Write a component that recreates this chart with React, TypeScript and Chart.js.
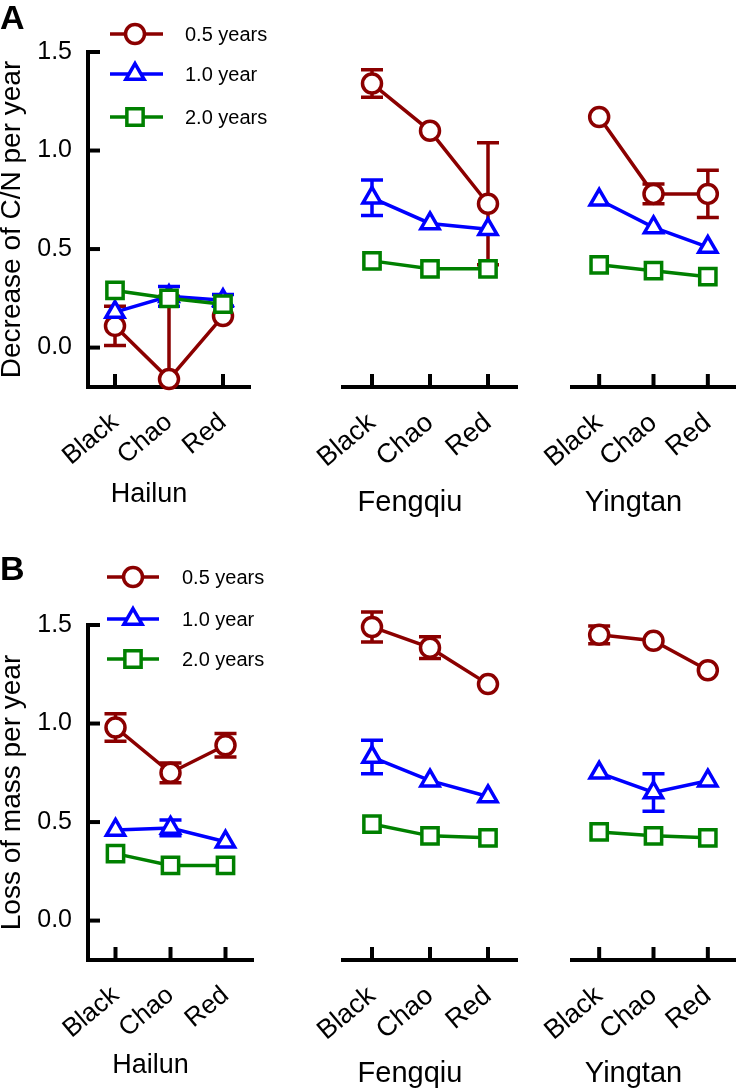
import React, { useEffect, useRef } from "react";
import { Chart, registerables } from "chart.js";
import { drawPoint } from "chart.js/helpers";

Chart.register(...registerables);

const FONT = "'Liberation Sans', Arial, Helvetica, sans-serif";

// ---------- data ----------
const categories = ["Black", "Chao", "Red"];
const seriesNames = ["0.5 years", "1.0 year", "2.0 years"];
const yTickValues = [0, 0.5, 1.0, 1.5];
const groupNames = ["Hailun", "Fengqiu", "Yingtan"];
const yTitleA = "Decrease of C/N per year";
const yTitleB = "Loss of mass per year";

// Panel A – decrease of C/N per year
const cnHailun05 = [0.11, -0.16, 0.16];
const cnHailun05Err = [0.1, 0.42, 0];
const cnHailun10 = [0.18, 0.26, 0.24];
const cnHailun10Err = [0, 0.05, 0.03];
const cnHailun20 = [0.29, 0.25, 0.22];
const cnHailun20Err = [0, 0, 0];

const cnFengqiu05 = [1.34, 1.1, 0.73];
const cnFengqiu05Err = [0.07, 0, 0.31];
const cnFengqiu10 = [0.76, 0.63, 0.6];
const cnFengqiu10Err = [0.09, 0, 0];
const cnFengqiu20 = [0.44, 0.4, 0.4];
const cnFengqiu20Err = [0, 0, 0];

const cnYingtan05 = [1.17, 0.78, 0.78];
const cnYingtan05Err = [0, 0.05, 0.12];
const cnYingtan10 = [0.75, 0.61, 0.51];
const cnYingtan10Err = [0, 0, 0];
const cnYingtan20 = [0.42, 0.39, 0.36];
const cnYingtan20Err = [0, 0, 0];

// Panel B – loss of mass per year
const mHailun05 = [0.98, 0.75, 0.89];
const mHailun05Err = [0.07, 0.05, 0.06];
const mHailun10 = [0.46, 0.47, 0.4];
const mHailun10Err = [0, 0.04, 0];
const mHailun20 = [0.34, 0.28, 0.28];
const mHailun20Err = [0, 0, 0];

const mFengqiu05 = [1.49, 1.385, 1.2];
const mFengqiu05Err = [0.076, 0.055, 0];
const mFengqiu10 = [0.83, 0.71, 0.63];
const mFengqiu10Err = [0.085, 0, 0];
const mFengqiu20 = [0.49, 0.43, 0.42];
const mFengqiu20Err = [0, 0, 0];

const mYingtan05 = [1.45, 1.42, 1.27];
const mYingtan05Err = [0.045, 0, 0];
const mYingtan10 = [0.75, 0.65, 0.71];
const mYingtan10Err = [0, 0.095, 0];
const mYingtan20 = [0.45, 0.43, 0.42];
const mYingtan20Err = [0, 0, 0];

// ---------- styles ----------
const COLORS = ["#8b0000", "#0000ff", "#008000"];
const STYLES = ["circle", "triangle", "rect"];
const RADII = [9.5, 10.5, 11.5];
const LINE_W = 3.5;
const AXIS_W = 4;

type Series = { values: number[]; errors: number[] };
type SubCfg = {
  left: number; top: number; width: number; height: number;
  areaLeft: number; areaRight: number; areaTop: number; areaBottom: number;
  yMin: number; yMax: number;
  showY: boolean; yTitle?: string;
  group: string; groupBaseline: number; groupFont: number;
  tickFont: number; tickPad: number; rotation: number;
  series: Series[];
  legend?: { x0: number; x1: number; xm: number; xt: number; rows: number[] };
  letter?: { text: string; x: number; baseline: number };
};

function Sub({ cfg }: { cfg: SubCfg }) {
  const ref = useRef<HTMLCanvasElement | null>(null);
  useEffect(() => {
    const canvas = ref.current;
    if (!canvas) return;

    const decor = {
      id: "decor",
      beforeDatasetsDraw(chart: any) {
        const { ctx, chartArea, scales } = chart;
        const x = scales.x;
        const y = scales.y;
        ctx.save();
        ctx.strokeStyle = "#000";
        ctx.lineWidth = AXIS_W;
        ctx.lineCap = "butt";
        // inward ticks
        categories.forEach((_, j) => {
          const px = x.getPixelForValue(j);
          ctx.beginPath();
          ctx.moveTo(px, chartArea.bottom);
          ctx.lineTo(px, chartArea.bottom - 13);
          ctx.stroke();
        });
        if (cfg.showY) {
          yTickValues.forEach((v) => {
            const py = y.getPixelForValue(v);
            ctx.beginPath();
            ctx.moveTo(chartArea.left, py);
            ctx.lineTo(chartArea.left + 12, py);
            ctx.stroke();
          });
        }
        // error bars
        ctx.lineWidth = LINE_W;
        ctx.beginPath();
        ctx.rect(chartArea.left - 30, 0, chartArea.right - chartArea.left + 60, chartArea.bottom);
        ctx.clip();
        cfg.series.forEach((s, i) => {
          ctx.strokeStyle = COLORS[i];
          s.errors.forEach((e, j) => {
            if (!e) return;
            const px = x.getPixelForValue(j);
            const yHi = y.getPixelForValue(s.values[j] + e);
            const yLo = y.getPixelForValue(s.values[j] - e);
            ctx.beginPath();
            ctx.moveTo(px, yHi);
            ctx.lineTo(px, yLo);
            ctx.moveTo(px - 11, yHi);
            ctx.lineTo(px + 11, yHi);
            ctx.moveTo(px - 11, yLo);
            ctx.lineTo(px + 11, yLo);
            ctx.stroke();
          });
        });
        ctx.restore();
      },
      afterDraw(chart: any) {
        const { ctx, chartArea } = chart;
        ctx.save();
        ctx.fillStyle = "#000";
        ctx.font = `${cfg.groupFont}px ${FONT}`;
        ctx.textAlign = "center";
        ctx.textBaseline = "alphabetic";
        const gx = (chartArea.left + chartArea.right) / 2 - 20;
        ctx.fillText(cfg.group, gx, cfg.groupBaseline - cfg.top);
        if (cfg.letter) {
          ctx.font = `bold 34px ${FONT}`;
          ctx.textAlign = "left";
          ctx.fillText(cfg.letter.text, cfg.letter.x - cfg.left, cfg.letter.baseline - cfg.top);
        }
        if (cfg.legend) {
          const lg = cfg.legend;
          seriesNames.forEach((name, i) => {
            const ry = lg.rows[i] - cfg.top;
            ctx.strokeStyle = COLORS[i];
            ctx.lineWidth = LINE_W;
            ctx.beginPath();
            ctx.moveTo(lg.x0 - cfg.left, ry);
            ctx.lineTo(lg.x1 - cfg.left, ry);
            ctx.stroke();
            ctx.fillStyle = "#fff";
            drawPoint(ctx, { pointStyle: STYLES[i] as any, radius: RADII[i], rotation: 0, borderWidth: LINE_W }, lg.xm - cfg.left, ry);
            ctx.fillStyle = "#000";
            ctx.font = `20px ${FONT}`;
            ctx.textAlign = "left";
            ctx.textBaseline = "middle";
            ctx.fillText(name, lg.xt - cfg.left, ry + 1);
          });
        }
        ctx.restore();
      },
    };

    const chart = new Chart(canvas, {
      type: "line",
      data: {
        datasets: cfg.series.map((s, i) => ({
          label: seriesNames[i],
          data: s.values.map((v, j) => ({ x: j, y: v })),
          borderColor: COLORS[i],
          backgroundColor: "#fff",
          borderWidth: LINE_W,
          pointStyle: STYLES[i] as any,
          pointRadius: RADII[i],
          pointBorderWidth: LINE_W,
          pointBackgroundColor: "#fff",
          pointBorderColor: COLORS[i],
          order: 3 - i,
          clip: false as any,
          tension: 0,
        })),
      },
      options: {
        responsive: false,
        animation: false,
        devicePixelRatio: 1,
        events: [],
        layout: {
          padding: {
            left: cfg.showY ? 0 : cfg.areaLeft - cfg.left,
            right: cfg.left + cfg.width - cfg.areaRight,
            top: cfg.areaTop - cfg.top,
            bottom: 0,
          },
        },
        plugins: { legend: { display: false }, tooltip: { enabled: false }, title: { display: false } },
        scales: {
          x: {
            type: "linear",
            position: "bottom",
            min: -0.5,
            max: 2.5,
            afterBuildTicks: (ax: any) => {
              ax.ticks = categories.map((_, j) => ({ value: j }));
            },
            ticks: {
              callback: (v: any) => categories[Number(v)] ?? "",
              font: { family: FONT, size: cfg.tickFont },
              color: "#000",
              padding: cfg.tickPad,
              minRotation: cfg.rotation,
              maxRotation: cfg.rotation,
              autoSkip: false,
            },
            grid: { display: false, drawTicks: false },
            border: { display: true, color: "#000", width: AXIS_W },
            afterFit: (ax: any) => {
              ax.height = cfg.top + cfg.height - cfg.areaBottom;
              ax.paddingLeft = 0;
              ax.paddingRight = 0;
            },
          },
          y: {
            type: "linear",
            display: cfg.showY,
            min: cfg.yMin,
            max: cfg.yMax,
            afterBuildTicks: (ax: any) => {
              ax.ticks = yTickValues.map((v) => ({ value: v }));
            },
            ticks: {
              callback: (v: any) => Number(v).toFixed(1),
              font: { family: FONT, size: 25 },
              color: "#000",
              padding: 16,
            },
            grid: { display: false, drawTicks: false },
            border: { display: true, color: "#000", width: AXIS_W },
            title: {
              display: !!cfg.yTitle,
              text: cfg.yTitle || "",
              font: { family: FONT, size: 28, lineHeight: 0.9 },
              color: "#000",
              padding: 0,
            },
            afterFit: (ax: any) => {
              if (cfg.showY) ax.width = cfg.areaLeft - cfg.left;
              else ax.width = 0;
              ax.paddingTop = 0;
              ax.paddingBottom = 0;
            },
          },
        },
      } as any,
      plugins: [decor],
    });
    return () => chart.destroy();
  }, [cfg]);

  return (
    <canvas
      ref={ref}
      width={cfg.width}
      height={cfg.height}
      style={{ position: "absolute", left: cfg.left, top: cfg.top, width: cfg.width, height: cfg.height }}
    />
  );
}

const mk = (v: number[], e: number[]): Series => ({ values: v, errors: e });

const panelA: SubCfg[] = [
  {
    left: 0, top: 0, width: 300, height: 530,
    areaLeft: 88, areaRight: 250, areaTop: 52, areaBottom: 387,
    yMin: -0.2, yMax: 1.5, showY: true, yTitle: yTitleA,
    group: groupNames[0], groupBaseline: 502, groupFont: 27,
    tickFont: 26, tickPad: 20, rotation: 40,
    series: [mk(cnHailun05, cnHailun05Err), mk(cnHailun10, cnHailun10Err), mk(cnHailun20, cnHailun20Err)],
    legend: { x0: 110, x1: 163, xm: 135, xt: 185, rows: [34, 74, 117] },
    letter: { text: "A", x: 0, baseline: 29 },
  },
  {
    left: 262, top: 0, width: 270, height: 530,
    areaLeft: 343, areaRight: 521, areaTop: 52, areaBottom: 387,
    yMin: -0.2, yMax: 1.5, showY: false,
    group: groupNames[1], groupBaseline: 511, groupFont: 29,
    tickFont: 27, tickPad: 20, rotation: 40,
    series: [mk(cnFengqiu05, cnFengqiu05Err), mk(cnFengqiu10, cnFengqiu10Err), mk(cnFengqiu20, cnFengqiu20Err)],
  },
  {
    left: 532, top: 0, width: 218, height: 530,
    areaLeft: 572, areaRight: 750, areaTop: 52, areaBottom: 387,
    yMin: -0.2, yMax: 1.5, showY: false,
    group: groupNames[2], groupBaseline: 511, groupFont: 29,
    tickFont: 27, tickPad: 20, rotation: 40,
    series: [mk(cnYingtan05, cnYingtan05Err), mk(cnYingtan10, cnYingtan10Err), mk(cnYingtan20, cnYingtan20Err)],
  },
];

const panelB: SubCfg[] = [
  {
    left: 0, top: 530, width: 300, height: 560,
    areaLeft: 88, areaRight: 253, areaTop: 625, areaBottom: 960,
    yMin: -0.2, yMax: 1.5, showY: true, yTitle: yTitleB,
    group: groupNames[0], groupBaseline: 1073, groupFont: 27,
    tickFont: 26, tickPad: 20, rotation: 40,
    series: [mk(mHailun05, mHailun05Err), mk(mHailun10, mHailun10Err), mk(mHailun20, mHailun20Err)],
    legend: { x0: 107, x1: 159, xm: 133, xt: 182, rows: [577, 619, 659] },
    letter: { text: "B", x: 0, baseline: 580 },
  },
  {
    left: 262, top: 530, width: 270, height: 560,
    areaLeft: 343, areaRight: 521, areaTop: 625, areaBottom: 960,
    yMin: -0.2, yMax: 1.5, showY: false,
    group: groupNames[1], groupBaseline: 1082, groupFont: 29,
    tickFont: 27, tickPad: 20, rotation: 40,
    series: [mk(mFengqiu05, mFengqiu05Err), mk(mFengqiu10, mFengqiu10Err), mk(mFengqiu20, mFengqiu20Err)],
  },
  {
    left: 532, top: 530, width: 218, height: 560,
    areaLeft: 572, areaRight: 750, areaTop: 625, areaBottom: 960,
    yMin: -0.2, yMax: 1.5, showY: false,
    group: groupNames[2], groupBaseline: 1082, groupFont: 29,
    tickFont: 27, tickPad: 20, rotation: 40,
    series: [mk(mYingtan05, mYingtan05Err), mk(mYingtan10, mYingtan10Err), mk(mYingtan20, mYingtan20Err)],
  },
];

export default function App() {
  return (
    <div style={{ position: "absolute", left: 0, top: 0, width: 750, height: 1090, background: "#fff", overflow: "hidden" }}>
      {[...panelA, ...panelB].map((cfg, i) => (
        <Sub key={i} cfg={cfg} />
      ))}
    </div>
  );
}
